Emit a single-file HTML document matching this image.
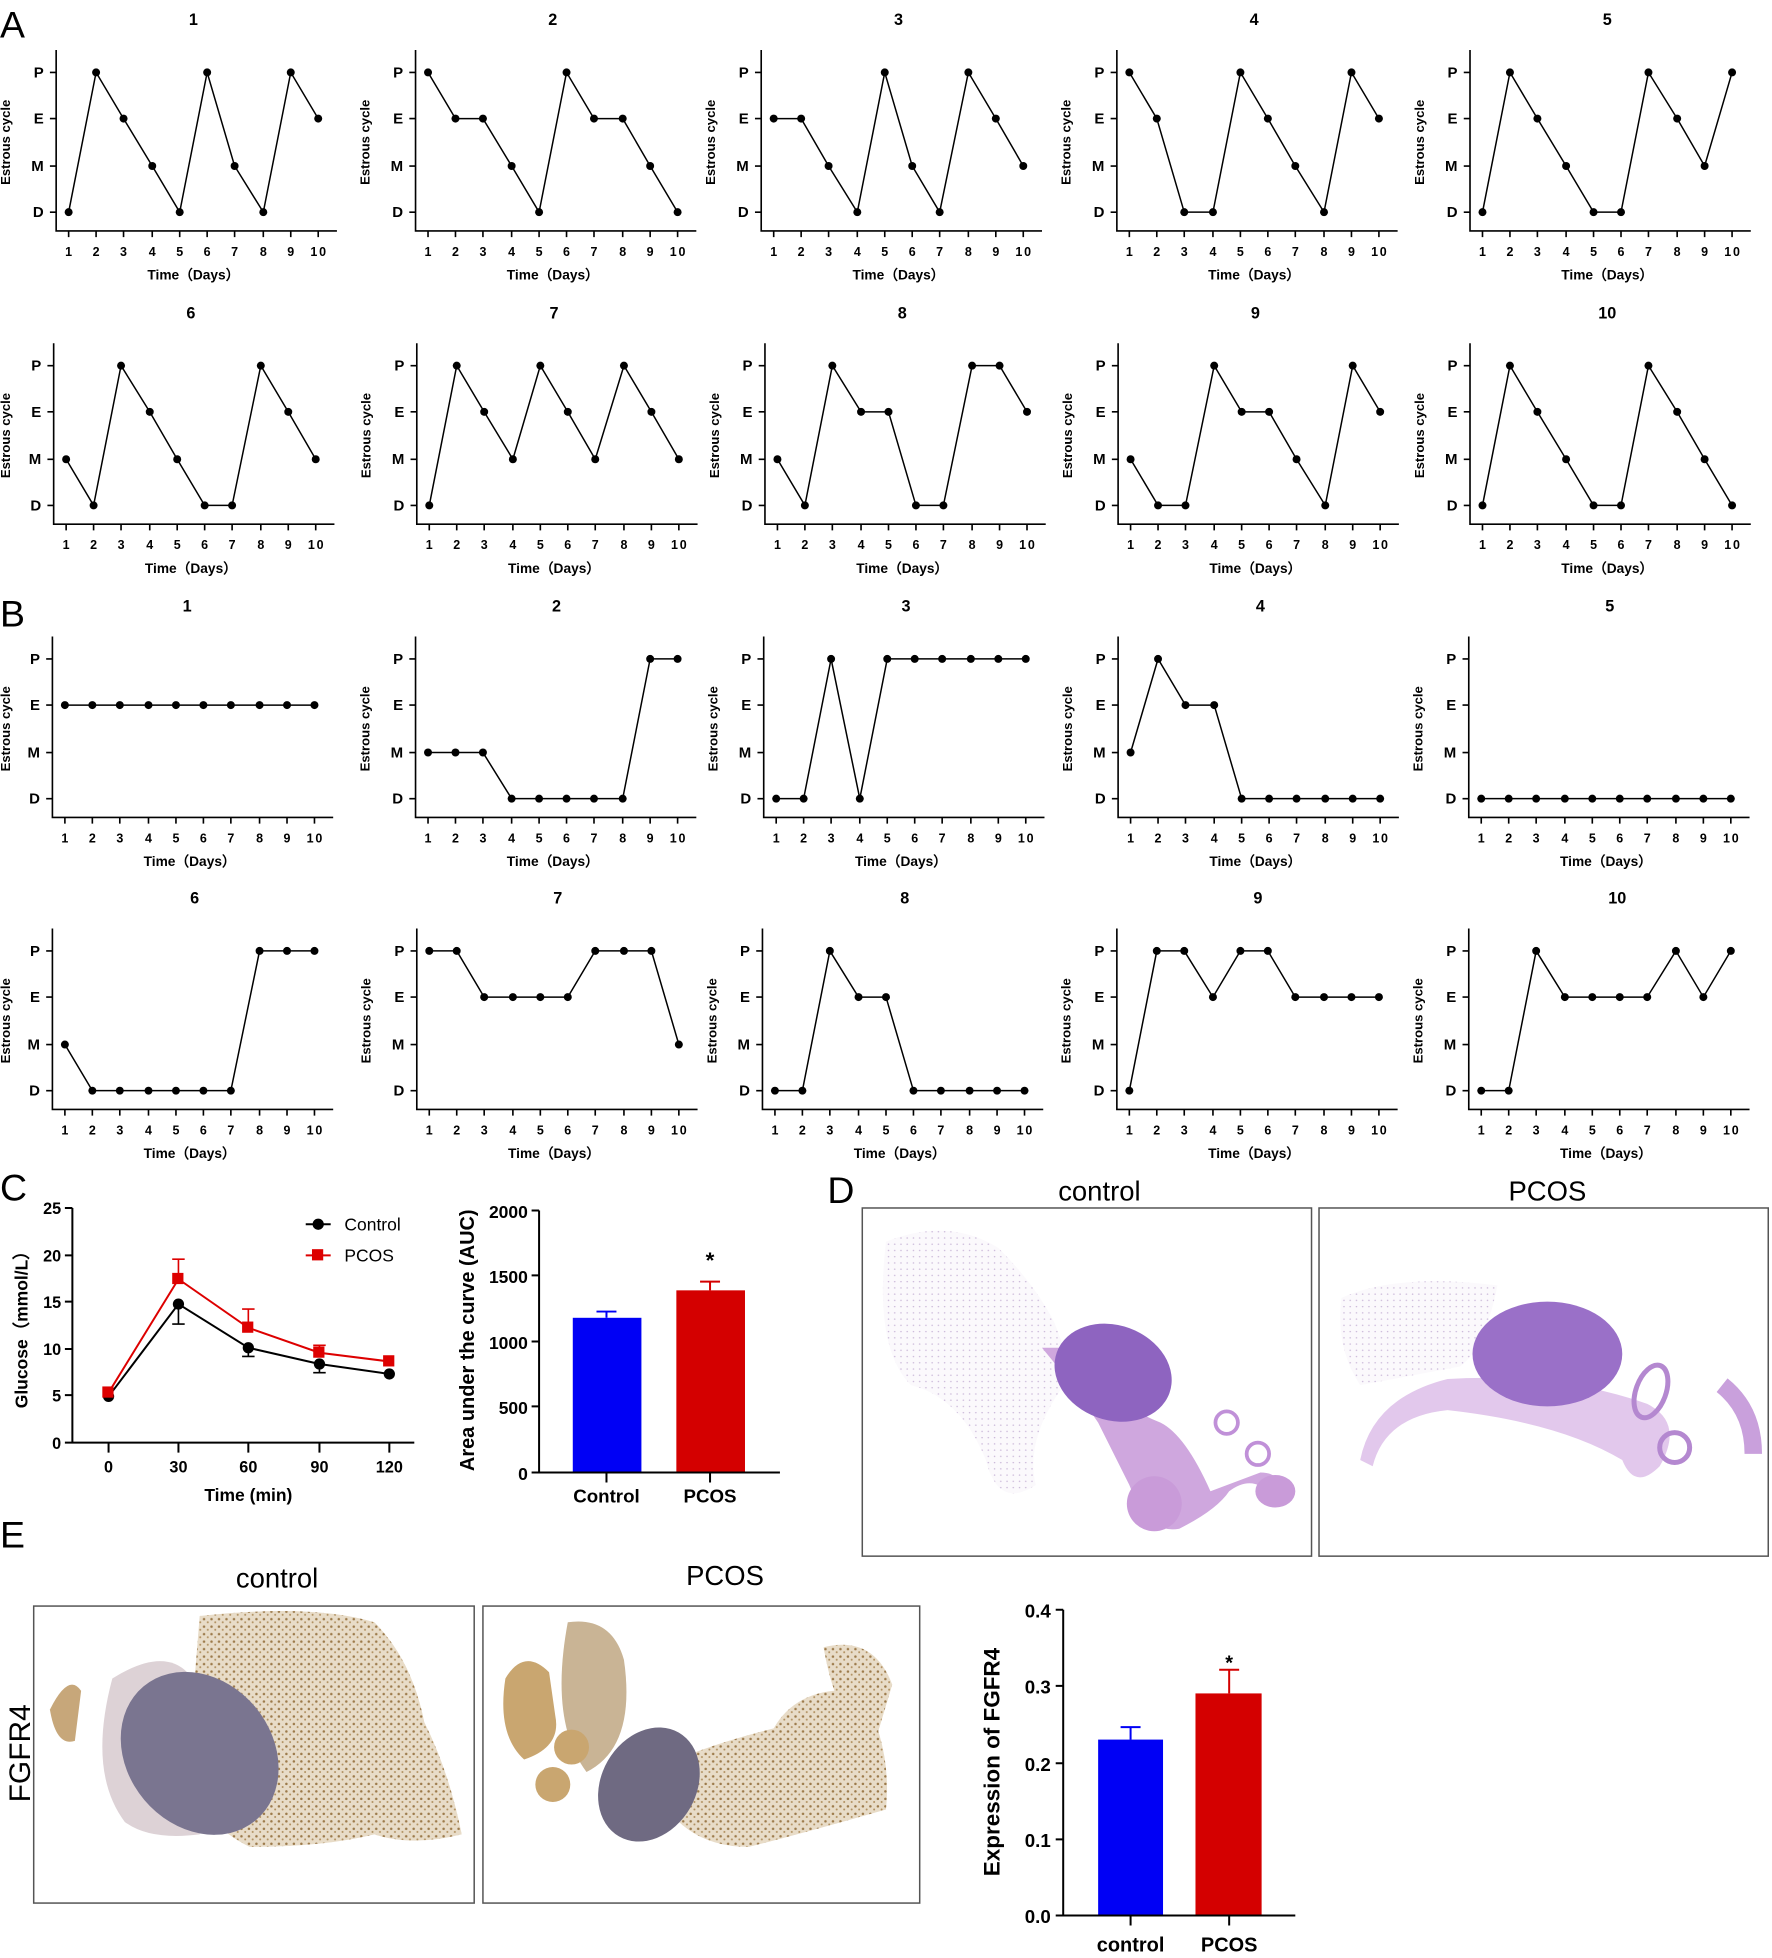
<!DOCTYPE html>
<html><head><meta charset="utf-8"><style>
html,body{margin:0;padding:0;background:#fff}
svg{display:block}
text{font-family:"Liberation Sans",Arial,sans-serif}
.b{font-weight:bold}
</style></head><body>
<svg width="1772" height="1958" viewBox="0 0 1420 1569" xmlns="http://www.w3.org/2000/svg">
<defs>
<marker id="dot" markerWidth="8" markerHeight="8" refX="4" refY="4" markerUnits="userSpaceOnUse"><circle cx="4" cy="4" r="3.2" fill="#000"/></marker>
<pattern id="brown" width="6" height="6" patternUnits="userSpaceOnUse"><rect width="6" height="6" fill="#e8dcc8"/><circle cx="1.5" cy="1.5" r="1" fill="#9c7a4a"/><circle cx="4.5" cy="4" r="0.8" fill="#b08f5e"/></pattern>
<pattern id="lav" width="5" height="5" patternUnits="userSpaceOnUse"><rect width="5" height="5" fill="#fbf9fc"/><circle cx="2" cy="2" r="0.6" fill="#c9b6d8"/></pattern>
</defs>
<rect width="1420" height="1569" fill="#fff"/>
<g font-size="30"><text x="0" y="30">A</text><text x="0" y="502">B</text><text x="0" y="962">C</text><text x="663" y="964">D</text><text x="0" y="1240">E</text></g>

<g class="b" font-size="11">
<!-- Row A1 -->
<g transform="translate(45,58)"><path d="M0,-18V127H225M-5,0H0M-5,37H0M-5,75H0M-5,112H0M10,127v5M32,127v5M54,127v5M77,127v5M99,127v5M121,127v5M143,127v5M166,127v5M188,127v5M210,127v5" stroke="#000" stroke-width="1.3" fill="none"/><text x="-10 -10 -10 -10" y="4 41 79 116" text-anchor="end" font-size="12">PEMD</text><text x="10 32 54 77 99 121 143 166 188 206.5 213.5" y="147" text-anchor="middle" font-size="10">12345678910</text><text x="110" y="166" text-anchor="middle">Time（Days）</text><text transform="translate(-37,56) rotate(-90)" text-anchor="middle" font-size="10.5">Estrous cycle</text><text x="110" y="-38" text-anchor="middle" font-size="13">1</text><polyline points="10,112 32,0 54,37 77,75 99,112 121,0 143,75 166,112 188,0 210,37" fill="none" stroke="#000" stroke-width="1.2" marker-start="url(#dot)" marker-mid="url(#dot)" marker-end="url(#dot)"/></g>
<g transform="translate(333,58)"><path d="M0,-18V127H225M-5,0H0M-5,37H0M-5,75H0M-5,112H0M10,127v5M32,127v5M54,127v5M77,127v5M99,127v5M121,127v5M143,127v5M166,127v5M188,127v5M210,127v5" stroke="#000" stroke-width="1.3" fill="none"/><text x="-10 -10 -10 -10" y="4 41 79 116" text-anchor="end" font-size="12">PEMD</text><text x="10 32 54 77 99 121 143 166 188 206.5 213.5" y="147" text-anchor="middle" font-size="10">12345678910</text><text x="110" y="166" text-anchor="middle">Time（Days）</text><text transform="translate(-37,56) rotate(-90)" text-anchor="middle" font-size="10.5">Estrous cycle</text><text x="110" y="-38" text-anchor="middle" font-size="13">2</text><polyline points="10,0 32,37 54,37 77,75 99,112 121,0 143,37 166,37 188,75 210,112" fill="none" stroke="#000" stroke-width="1.2" marker-start="url(#dot)" marker-mid="url(#dot)" marker-end="url(#dot)"/></g>
<g transform="translate(610,58)"><path d="M0,-18V127H225M-5,0H0M-5,37H0M-5,75H0M-5,112H0M10,127v5M32,127v5M54,127v5M77,127v5M99,127v5M121,127v5M143,127v5M166,127v5M188,127v5M210,127v5" stroke="#000" stroke-width="1.3" fill="none"/><text x="-10 -10 -10 -10" y="4 41 79 116" text-anchor="end" font-size="12">PEMD</text><text x="10 32 54 77 99 121 143 166 188 206.5 213.5" y="147" text-anchor="middle" font-size="10">12345678910</text><text x="110" y="166" text-anchor="middle">Time（Days）</text><text transform="translate(-37,56) rotate(-90)" text-anchor="middle" font-size="10.5">Estrous cycle</text><text x="110" y="-38" text-anchor="middle" font-size="13">3</text><polyline points="10,37 32,37 54,75 77,112 99,0 121,75 143,112 166,0 188,37 210,75" fill="none" stroke="#000" stroke-width="1.2" marker-start="url(#dot)" marker-mid="url(#dot)" marker-end="url(#dot)"/></g>
<g transform="translate(895,58)"><path d="M0,-18V127H225M-5,0H0M-5,37H0M-5,75H0M-5,112H0M10,127v5M32,127v5M54,127v5M77,127v5M99,127v5M121,127v5M143,127v5M166,127v5M188,127v5M210,127v5" stroke="#000" stroke-width="1.3" fill="none"/><text x="-10 -10 -10 -10" y="4 41 79 116" text-anchor="end" font-size="12">PEMD</text><text x="10 32 54 77 99 121 143 166 188 206.5 213.5" y="147" text-anchor="middle" font-size="10">12345678910</text><text x="110" y="166" text-anchor="middle">Time（Days）</text><text transform="translate(-37,56) rotate(-90)" text-anchor="middle" font-size="10.5">Estrous cycle</text><text x="110" y="-38" text-anchor="middle" font-size="13">4</text><polyline points="10,0 32,37 54,112 77,112 99,0 121,37 143,75 166,112 188,0 210,37" fill="none" stroke="#000" stroke-width="1.2" marker-start="url(#dot)" marker-mid="url(#dot)" marker-end="url(#dot)"/></g>
<g transform="translate(1178,58)"><path d="M0,-18V127H225M-5,0H0M-5,37H0M-5,75H0M-5,112H0M10,127v5M32,127v5M54,127v5M77,127v5M99,127v5M121,127v5M143,127v5M166,127v5M188,127v5M210,127v5" stroke="#000" stroke-width="1.3" fill="none"/><text x="-10 -10 -10 -10" y="4 41 79 116" text-anchor="end" font-size="12">PEMD</text><text x="10 32 54 77 99 121 143 166 188 206.5 213.5" y="147" text-anchor="middle" font-size="10">12345678910</text><text x="110" y="166" text-anchor="middle">Time（Days）</text><text transform="translate(-37,56) rotate(-90)" text-anchor="middle" font-size="10.5">Estrous cycle</text><text x="110" y="-38" text-anchor="middle" font-size="13">5</text><polyline points="10,112 32,0 54,37 77,75 99,112 121,112 143,0 166,37 188,75 210,0" fill="none" stroke="#000" stroke-width="1.2" marker-start="url(#dot)" marker-mid="url(#dot)" marker-end="url(#dot)"/></g>

<!-- Row A2 -->
<g transform="translate(43,293)"><path d="M0,-18V127H225M-5,0H0M-5,37H0M-5,75H0M-5,112H0M10,127v5M32,127v5M54,127v5M77,127v5M99,127v5M121,127v5M143,127v5M166,127v5M188,127v5M210,127v5" stroke="#000" stroke-width="1.3" fill="none"/><text x="-10 -10 -10 -10" y="4 41 79 116" text-anchor="end" font-size="12">PEMD</text><text x="10 32 54 77 99 121 143 166 188 206.5 213.5" y="147" text-anchor="middle" font-size="10">12345678910</text><text x="110" y="166" text-anchor="middle">Time（Days）</text><text transform="translate(-35,56) rotate(-90)" text-anchor="middle" font-size="10.5">Estrous cycle</text><text x="110" y="-38" text-anchor="middle" font-size="13">6</text><polyline points="10,75 32,112 54,0 77,37 99,75 121,112 143,112 166,0 188,37 210,75" fill="none" stroke="#000" stroke-width="1.2" marker-start="url(#dot)" marker-mid="url(#dot)" marker-end="url(#dot)"/></g>
<g transform="translate(334,293)"><path d="M0,-18V127H225M-5,0H0M-5,37H0M-5,75H0M-5,112H0M10,127v5M32,127v5M54,127v5M77,127v5M99,127v5M121,127v5M143,127v5M166,127v5M188,127v5M210,127v5" stroke="#000" stroke-width="1.3" fill="none"/><text x="-10 -10 -10 -10" y="4 41 79 116" text-anchor="end" font-size="12">PEMD</text><text x="10 32 54 77 99 121 143 166 188 206.5 213.5" y="147" text-anchor="middle" font-size="10">12345678910</text><text x="110" y="166" text-anchor="middle">Time（Days）</text><text transform="translate(-37,56) rotate(-90)" text-anchor="middle" font-size="10.5">Estrous cycle</text><text x="110" y="-38" text-anchor="middle" font-size="13">7</text><polyline points="10,112 32,0 54,37 77,75 99,0 121,37 143,75 166,0 188,37 210,75" fill="none" stroke="#000" stroke-width="1.2" marker-start="url(#dot)" marker-mid="url(#dot)" marker-end="url(#dot)"/></g>
<g transform="translate(613,293)"><path d="M0,-18V127H225M-5,0H0M-5,37H0M-5,75H0M-5,112H0M10,127v5M32,127v5M54,127v5M77,127v5M99,127v5M121,127v5M143,127v5M166,127v5M188,127v5M210,127v5" stroke="#000" stroke-width="1.3" fill="none"/><text x="-10 -10 -10 -10" y="4 41 79 116" text-anchor="end" font-size="12">PEMD</text><text x="10 32 54 77 99 121 143 166 188 206.5 213.5" y="147" text-anchor="middle" font-size="10">12345678910</text><text x="110" y="166" text-anchor="middle">Time（Days）</text><text transform="translate(-37,56) rotate(-90)" text-anchor="middle" font-size="10.5">Estrous cycle</text><text x="110" y="-38" text-anchor="middle" font-size="13">8</text><polyline points="10,75 32,112 54,0 77,37 99,37 121,112 143,112 166,0 188,0 210,37" fill="none" stroke="#000" stroke-width="1.2" marker-start="url(#dot)" marker-mid="url(#dot)" marker-end="url(#dot)"/></g>
<g transform="translate(896,293)"><path d="M0,-18V127H225M-5,0H0M-5,37H0M-5,75H0M-5,112H0M10,127v5M32,127v5M54,127v5M77,127v5M99,127v5M121,127v5M143,127v5M166,127v5M188,127v5M210,127v5" stroke="#000" stroke-width="1.3" fill="none"/><text x="-10 -10 -10 -10" y="4 41 79 116" text-anchor="end" font-size="12">PEMD</text><text x="10 32 54 77 99 121 143 166 188 206.5 213.5" y="147" text-anchor="middle" font-size="10">12345678910</text><text x="110" y="166" text-anchor="middle">Time（Days）</text><text transform="translate(-37,56) rotate(-90)" text-anchor="middle" font-size="10.5">Estrous cycle</text><text x="110" y="-38" text-anchor="middle" font-size="13">9</text><polyline points="10,75 32,112 54,112 77,0 99,37 121,37 143,75 166,112 188,0 210,37" fill="none" stroke="#000" stroke-width="1.2" marker-start="url(#dot)" marker-mid="url(#dot)" marker-end="url(#dot)"/></g>
<g transform="translate(1178,293)"><path d="M0,-18V127H225M-5,0H0M-5,37H0M-5,75H0M-5,112H0M10,127v5M32,127v5M54,127v5M77,127v5M99,127v5M121,127v5M143,127v5M166,127v5M188,127v5M210,127v5" stroke="#000" stroke-width="1.3" fill="none"/><text x="-10 -10 -10 -10" y="4 41 79 116" text-anchor="end" font-size="12">PEMD</text><text x="10 32 54 77 99 121 143 166 188 206.5 213.5" y="147" text-anchor="middle" font-size="10">12345678910</text><text x="110" y="166" text-anchor="middle">Time（Days）</text><text transform="translate(-37,56) rotate(-90)" text-anchor="middle" font-size="10.5">Estrous cycle</text><text x="110" y="-38" text-anchor="middle" font-size="13">10</text><polyline points="10,112 32,0 54,37 77,75 99,112 121,112 143,0 166,37 188,75 210,112" fill="none" stroke="#000" stroke-width="1.2" marker-start="url(#dot)" marker-mid="url(#dot)" marker-end="url(#dot)"/></g>

<!-- Row B1 -->
<g transform="translate(42,528)"><path d="M0,-18V127H225M-5,0H0M-5,37H0M-5,75H0M-5,112H0M10,127v5M32,127v5M54,127v5M77,127v5M99,127v5M121,127v5M143,127v5M166,127v5M188,127v5M210,127v5" stroke="#000" stroke-width="1.3" fill="none"/><text x="-10 -10 -10 -10" y="4 41 79 116" text-anchor="end" font-size="12">PEMD</text><text x="10 32 54 77 99 121 143 166 188 206.5 213.5" y="147" text-anchor="middle" font-size="10">12345678910</text><text x="110" y="166" text-anchor="middle">Time（Days）</text><text transform="translate(-34,56) rotate(-90)" text-anchor="middle" font-size="10.5">Estrous cycle</text><text x="108" y="-38" text-anchor="middle" font-size="13">1</text><polyline points="10,37 32,37 54,37 77,37 99,37 121,37 143,37 166,37 188,37 210,37" fill="none" stroke="#000" stroke-width="1.2" marker-start="url(#dot)" marker-mid="url(#dot)" marker-end="url(#dot)"/></g>
<g transform="translate(333,528)"><path d="M0,-18V127H225M-5,0H0M-5,37H0M-5,75H0M-5,112H0M10,127v5M32,127v5M54,127v5M77,127v5M99,127v5M121,127v5M143,127v5M166,127v5M188,127v5M210,127v5" stroke="#000" stroke-width="1.3" fill="none"/><text x="-10 -10 -10 -10" y="4 41 79 116" text-anchor="end" font-size="12">PEMD</text><text x="10 32 54 77 99 121 143 166 188 206.5 213.5" y="147" text-anchor="middle" font-size="10">12345678910</text><text x="110" y="166" text-anchor="middle">Time（Days）</text><text transform="translate(-37,56) rotate(-90)" text-anchor="middle" font-size="10.5">Estrous cycle</text><text x="113" y="-38" text-anchor="middle" font-size="13">2</text><polyline points="10,75 32,75 54,75 77,112 99,112 121,112 143,112 166,112 188,0 210,0" fill="none" stroke="#000" stroke-width="1.2" marker-start="url(#dot)" marker-mid="url(#dot)" marker-end="url(#dot)"/></g>
<g transform="translate(612,528)"><path d="M0,-18V127H225M-5,0H0M-5,37H0M-5,75H0M-5,112H0M10,127v5M32,127v5M54,127v5M77,127v5M99,127v5M121,127v5M143,127v5M166,127v5M188,127v5M210,127v5" stroke="#000" stroke-width="1.3" fill="none"/><text x="-10 -10 -10 -10" y="4 41 79 116" text-anchor="end" font-size="12">PEMD</text><text x="10 32 54 77 99 121 143 166 188 206.5 213.5" y="147" text-anchor="middle" font-size="10">12345678910</text><text x="110" y="166" text-anchor="middle">Time（Days）</text><text transform="translate(-37,56) rotate(-90)" text-anchor="middle" font-size="10.5">Estrous cycle</text><text x="114" y="-38" text-anchor="middle" font-size="13">3</text><polyline points="10,112 32,112 54,0 77,112 99,0 121,0 143,0 166,0 188,0 210,0" fill="none" stroke="#000" stroke-width="1.2" marker-start="url(#dot)" marker-mid="url(#dot)" marker-end="url(#dot)"/></g>
<g transform="translate(896,528)"><path d="M0,-18V127H225M-5,0H0M-5,37H0M-5,75H0M-5,112H0M10,127v5M32,127v5M54,127v5M77,127v5M99,127v5M121,127v5M143,127v5M166,127v5M188,127v5M210,127v5" stroke="#000" stroke-width="1.3" fill="none"/><text x="-10 -10 -10 -10" y="4 41 79 116" text-anchor="end" font-size="12">PEMD</text><text x="10 32 54 77 99 121 143 166 188 206.5 213.5" y="147" text-anchor="middle" font-size="10">12345678910</text><text x="110" y="166" text-anchor="middle">Time（Days）</text><text transform="translate(-37,56) rotate(-90)" text-anchor="middle" font-size="10.5">Estrous cycle</text><text x="114" y="-38" text-anchor="middle" font-size="13">4</text><polyline points="10,75 32,0 54,37 77,37 99,112 121,112 143,112 166,112 188,112 210,112" fill="none" stroke="#000" stroke-width="1.2" marker-start="url(#dot)" marker-mid="url(#dot)" marker-end="url(#dot)"/></g>
<g transform="translate(1177,528)"><path d="M0,-18V127H225M-5,0H0M-5,37H0M-5,75H0M-5,112H0M10,127v5M32,127v5M54,127v5M77,127v5M99,127v5M121,127v5M143,127v5M166,127v5M188,127v5M210,127v5" stroke="#000" stroke-width="1.3" fill="none"/><text x="-10 -10 -10 -10" y="4 41 79 116" text-anchor="end" font-size="12">PEMD</text><text x="10 32 54 77 99 121 143 166 188 206.5 213.5" y="147" text-anchor="middle" font-size="10">12345678910</text><text x="110" y="166" text-anchor="middle">Time（Days）</text><text transform="translate(-37,56) rotate(-90)" text-anchor="middle" font-size="10.5">Estrous cycle</text><text x="113" y="-38" text-anchor="middle" font-size="13">5</text><polyline points="10,112 32,112 54,112 77,112 99,112 121,112 143,112 166,112 188,112 210,112" fill="none" stroke="#000" stroke-width="1.2" marker-start="url(#dot)" marker-mid="url(#dot)" marker-end="url(#dot)"/></g>

<!-- Row B2 -->
<g transform="translate(42,762)"><path d="M0,-18V127H225M-5,0H0M-5,37H0M-5,75H0M-5,112H0M10,127v5M32,127v5M54,127v5M77,127v5M99,127v5M121,127v5M143,127v5M166,127v5M188,127v5M210,127v5" stroke="#000" stroke-width="1.3" fill="none"/><text x="-10 -10 -10 -10" y="4 41 79 116" text-anchor="end" font-size="12">PEMD</text><text x="10 32 54 77 99 121 143 166 188 206.5 213.5" y="147" text-anchor="middle" font-size="10">12345678910</text><text x="110" y="166" text-anchor="middle">Time（Days）</text><text transform="translate(-34,56) rotate(-90)" text-anchor="middle" font-size="10.5">Estrous cycle</text><text x="114" y="-38" text-anchor="middle" font-size="13">6</text><polyline points="10,75 32,112 54,112 77,112 99,112 121,112 143,112 166,0 188,0 210,0" fill="none" stroke="#000" stroke-width="1.2" marker-start="url(#dot)" marker-mid="url(#dot)" marker-end="url(#dot)"/></g>
<g transform="translate(334,762)"><path d="M0,-18V127H225M-5,0H0M-5,37H0M-5,75H0M-5,112H0M10,127v5M32,127v5M54,127v5M77,127v5M99,127v5M121,127v5M143,127v5M166,127v5M188,127v5M210,127v5" stroke="#000" stroke-width="1.3" fill="none"/><text x="-10 -10 -10 -10" y="4 41 79 116" text-anchor="end" font-size="12">PEMD</text><text x="10 32 54 77 99 121 143 166 188 206.5 213.5" y="147" text-anchor="middle" font-size="10">12345678910</text><text x="110" y="166" text-anchor="middle">Time（Days）</text><text transform="translate(-37,56) rotate(-90)" text-anchor="middle" font-size="10.5">Estrous cycle</text><text x="113" y="-38" text-anchor="middle" font-size="13">7</text><polyline points="10,0 32,0 54,37 77,37 99,37 121,37 143,0 166,0 188,0 210,75" fill="none" stroke="#000" stroke-width="1.2" marker-start="url(#dot)" marker-mid="url(#dot)" marker-end="url(#dot)"/></g>
<g transform="translate(611,762)"><path d="M0,-18V127H225M-5,0H0M-5,37H0M-5,75H0M-5,112H0M10,127v5M32,127v5M54,127v5M77,127v5M99,127v5M121,127v5M143,127v5M166,127v5M188,127v5M210,127v5" stroke="#000" stroke-width="1.3" fill="none"/><text x="-10 -10 -10 -10" y="4 41 79 116" text-anchor="end" font-size="12">PEMD</text><text x="10 32 54 77 99 121 143 166 188 206.5 213.5" y="147" text-anchor="middle" font-size="10">12345678910</text><text x="110" y="166" text-anchor="middle">Time（Days）</text><text transform="translate(-37,56) rotate(-90)" text-anchor="middle" font-size="10.5">Estrous cycle</text><text x="114" y="-38" text-anchor="middle" font-size="13">8</text><polyline points="10,112 32,112 54,0 77,37 99,37 121,112 143,112 166,112 188,112 210,112" fill="none" stroke="#000" stroke-width="1.2" marker-start="url(#dot)" marker-mid="url(#dot)" marker-end="url(#dot)"/></g>
<g transform="translate(895,762)"><path d="M0,-18V127H225M-5,0H0M-5,37H0M-5,75H0M-5,112H0M10,127v5M32,127v5M54,127v5M77,127v5M99,127v5M121,127v5M143,127v5M166,127v5M188,127v5M210,127v5" stroke="#000" stroke-width="1.3" fill="none"/><text x="-10 -10 -10 -10" y="4 41 79 116" text-anchor="end" font-size="12">PEMD</text><text x="10 32 54 77 99 121 143 166 188 206.5 213.5" y="147" text-anchor="middle" font-size="10">12345678910</text><text x="110" y="166" text-anchor="middle">Time（Days）</text><text transform="translate(-37,56) rotate(-90)" text-anchor="middle" font-size="10.5">Estrous cycle</text><text x="113" y="-38" text-anchor="middle" font-size="13">9</text><polyline points="10,112 32,0 54,0 77,37 99,0 121,0 143,37 166,37 188,37 210,37" fill="none" stroke="#000" stroke-width="1.2" marker-start="url(#dot)" marker-mid="url(#dot)" marker-end="url(#dot)"/></g>
<g transform="translate(1177,762)"><path d="M0,-18V127H225M-5,0H0M-5,37H0M-5,75H0M-5,112H0M10,127v5M32,127v5M54,127v5M77,127v5M99,127v5M121,127v5M143,127v5M166,127v5M188,127v5M210,127v5" stroke="#000" stroke-width="1.3" fill="none"/><text x="-10 -10 -10 -10" y="4 41 79 116" text-anchor="end" font-size="12">PEMD</text><text x="10 32 54 77 99 121 143 166 188 206.5 213.5" y="147" text-anchor="middle" font-size="10">12345678910</text><text x="110" y="166" text-anchor="middle">Time（Days）</text><text transform="translate(-37,56) rotate(-90)" text-anchor="middle" font-size="10.5">Estrous cycle</text><text x="119" y="-38" text-anchor="middle" font-size="13">10</text><polyline points="10,112 32,112 54,0 77,37 99,37 121,37 143,37 166,0 188,37 210,0" fill="none" stroke="#000" stroke-width="1.2" marker-start="url(#dot)" marker-mid="url(#dot)" marker-end="url(#dot)"/></g>
</g>

<!-- C: glucose -->
<g class="b">
<path d="M58,968V1156H332M52,968H58M52,1006H58M52,1043H58M52,1081H58M52,1118H58M52,1156H58M87,1156v8M143,1156v8M199,1156v8M256,1156v8M312,1156v8" stroke="#000" stroke-width="1.6" fill="none"/>
<g font-size="13" text-anchor="end"><text x="49" y="973">25</text><text x="49" y="1011">20</text><text x="49" y="1048">15</text><text x="49" y="1086">10</text><text x="49" y="1123">5</text><text x="49" y="1161">0</text></g>
<g font-size="13" text-anchor="middle"><text x="87" y="1180">0</text><text x="143" y="1180">30</text><text x="199" y="1180">60</text><text x="256" y="1180">90</text><text x="312" y="1180">120</text><text x="199" y="1203" font-size="14">Time (min)</text></g>
<text transform="translate(22,1062) rotate(-90)" text-anchor="middle" font-size="14">Glucose（mmol/L）</text>
<g stroke="#000" stroke-width="1.3"><path d="M143,1045V1061M138,1061h10M199,1080V1087M194,1087h10M256,1093V1100M251,1100h10"/></g>
<g stroke="#d00" stroke-width="1.3"><path d="M143,1025V1009M138,1009h10M199,1063V1049M194,1049h10M256,1084V1078M251,1078h10"/></g>
<polyline points="87,1119 143,1045 199,1080 256,1093 312,1101" fill="none" stroke="#000" stroke-width="1.6"/>
<polyline points="87,1116 143,1025 199,1064 256,1084 312,1091" fill="none" stroke="#d00" stroke-width="1.6"/>
<g fill="#000"><circle cx="87" cy="1119" r="4.5"/><circle cx="143" cy="1045" r="4.5"/><circle cx="199" cy="1080" r="4.5"/><circle cx="256" cy="1093" r="4.5"/><circle cx="312" cy="1101" r="4.5"/></g>
<g fill="#d00"><rect x="82" y="1111" width="9" height="9"/><rect x="138" y="1020" width="9" height="9"/><rect x="194" y="1059" width="9" height="9"/><rect x="251" y="1079" width="9" height="9"/><rect x="307" y="1086" width="9" height="9"/></g>
<path d="M245,981h20" stroke="#000" stroke-width="1.6"/><circle cx="255" cy="981" r="4.5"/>
<path d="M245,1006h20" stroke="#d00" stroke-width="1.6"/><rect x="250" y="1001" width="9" height="9" fill="#d00"/>
<g font-size="14" font-weight="normal"><text x="276" y="986">Control</text><text x="276" y="1011">PCOS</text></g>
</g>

<!-- C: AUC -->
<g class="b">
<rect x="459" y="1056" width="55" height="124" fill="#0000f5"/>
<rect x="542" y="1034" width="55" height="146" fill="#d40000"/>
<path d="M486,1056V1051M478,1051h16" stroke="#0000f5" stroke-width="1.6"/>
<path d="M569,1034V1027M561,1027h16" stroke="#d40000" stroke-width="1.6"/>
<path d="M432,970V1180H625M426,970H432M426,1022H432M426,1075H432M426,1127H432M426,1180H432M486,1180v8M569,1180v8" stroke="#000" stroke-width="1.6" fill="none"/>
<g font-size="14" text-anchor="end"><text x="423" y="976">2000</text><text x="423" y="1028">1500</text><text x="423" y="1081">1000</text><text x="423" y="1133">500</text><text x="423" y="1186">0</text></g>
<text x="569" y="1016" text-anchor="middle" font-size="18">*</text>
<g font-size="15" text-anchor="middle"><text x="486" y="1204">Control</text><text x="569" y="1204">PCOS</text></g>
<text transform="translate(380,1074) rotate(-90)" text-anchor="middle" font-size="16">Area under the curve (AUC)</text>
</g>

<!-- D -->
<g font-size="22" text-anchor="middle"><text x="881" y="962">control</text><text x="1240" y="962">PCOS</text></g>
<rect x="691" y="968" width="360" height="279" fill="#fff" stroke="#555" stroke-width="1.2"/>
<rect x="1057" y="968" width="360" height="279" fill="#fff" stroke="#555" stroke-width="1.2"/>
<path d="M710,995 Q760,975 800,1000 Q830,1030 845,1060 L860,1100 Q820,1150 830,1190 Q800,1210 790,1170 Q770,1120 730,1110 Q700,1080 710,995Z" fill="url(#lav)"/>
<path d="M835,1080 Q860,1110 880,1140 L905,1190 Q920,1230 945,1225 Q975,1210 985,1195 Q1005,1180 1020,1200 Q1030,1180 1010,1180 L970,1195 Q950,1150 930,1140 Q880,1120 860,1080Z" fill="#cfa7de"/>
<ellipse cx="892" cy="1100" rx="48" ry="38" transform="rotate(20 892 1100)" fill="#8e64c0"/>
<ellipse cx="925" cy="1205" rx="22" ry="22" fill="#c99bd9"/>
<ellipse cx="1022" cy="1195" rx="16" ry="13" fill="#c99bd9"/>
<circle cx="983" cy="1140" r="9" fill="none" stroke="#c090d8" stroke-width="3"/>
<circle cx="1008" cy="1165" r="9" fill="none" stroke="#c090d8" stroke-width="3"/>
<path d="M1075,1040 Q1120,1020 1200,1030 Q1190,1080 1170,1095 L1090,1110 Q1070,1080 1075,1040Z" fill="url(#lav)"/>
<path d="M1090,1170 Q1100,1120 1160,1105 Q1250,1100 1320,1125 Q1350,1140 1330,1175 Q1310,1195 1300,1170 Q1250,1140 1160,1130 Q1110,1135 1100,1175Z" fill="#e2c8ec"/>
<ellipse cx="1240" cy="1085" rx="60" ry="42" fill="#9a70c8"/>
<ellipse cx="1323" cy="1115" rx="12" ry="22" transform="rotate(20 1323 1115)" fill="none" stroke="#b488d0" stroke-width="4"/>
<circle cx="1342" cy="1160" r="12" fill="none" stroke="#b488d0" stroke-width="4"/>
<path d="M1380,1110 Q1405,1130 1405,1165" fill="none" stroke="#c9a0dc" stroke-width="14"/>

<!-- E -->
<g font-size="22" text-anchor="middle"><text x="222" y="1272">control</text><text x="581" y="1270">PCOS</text></g>
<text transform="translate(24,1405) rotate(-90)" text-anchor="middle" font-size="24">FGFR4</text>
<rect x="27" y="1287" width="353" height="238" fill="#fff" stroke="#555" stroke-width="1.2"/>
<rect x="387" y="1287" width="350" height="238" fill="#fff" stroke="#555" stroke-width="1.2"/>
<path d="M160,1295 Q250,1285 300,1300 Q330,1330 340,1380 Q360,1420 370,1470 Q330,1480 300,1470 Q260,1480 200,1480 Q160,1460 150,1420 Z" fill="url(#brown)"/>
<path d="M90,1345 Q130,1320 150,1340 L160,1470 Q120,1475 100,1460 Q70,1420 90,1345Z" fill="#ddd2d6"/>
<ellipse cx="160" cy="1405" rx="70" ry="58" transform="rotate(50 160 1405)" fill="#7a7590"/>
<path d="M40,1370 Q55,1340 65,1355 L60,1395 Q45,1400 40,1370Z" fill="#c7a77a"/>
<path d="M455,1300 Q490,1295 500,1330 Q510,1400 470,1420 Q440,1380 455,1300Z" fill="#c9b495"/>
<path d="M520,1420 Q560,1400 620,1385 Q640,1350 690,1355 Q715,1400 710,1450 Q640,1470 600,1480 Q540,1480 520,1420Z" fill="url(#brown)"/>
<path d="M660,1320 Q700,1310 715,1350 L700,1400 Q670,1380 660,1320Z" fill="url(#brown)"/>
<ellipse cx="520" cy="1430" rx="38" ry="48" transform="rotate(30 520 1430)" fill="#6f6a82"/>
<path d="M405,1345 Q420,1320 440,1340 L445,1375 Q450,1400 420,1410 Q398,1390 405,1345Z" fill="#c9a670"/>
<circle cx="458" cy="1400" r="14" fill="#c9a670"/>
<circle cx="443" cy="1430" r="14" fill="#c9a670"/>

<!-- E bar chart -->
<g class="b">
<rect x="880" y="1394" width="52" height="141" fill="#0000f5"/>
<rect x="958" y="1357" width="53" height="178" fill="#d40000"/>
<path d="M906,1394V1384M898,1384h16" stroke="#0000f5" stroke-width="1.6"/>
<path d="M985,1357V1338M977,1338h16" stroke="#d40000" stroke-width="1.6"/>
<path d="M852,1290V1535H1038M846,1290H852M846,1351H852M846,1413H852M846,1474H852M846,1535H852M906,1535v8M985,1535v8" stroke="#000" stroke-width="1.6" fill="none"/>
<g font-size="15" text-anchor="end"><text x="842" y="1296">0.4</text><text x="842" y="1357">0.3</text><text x="842" y="1419">0.2</text><text x="842" y="1480">0.1</text><text x="842" y="1541">0.0</text></g>
<text x="985" y="1338" text-anchor="middle" font-size="16">*</text>
<g font-size="16" text-anchor="middle"><text x="906" y="1564">control</text><text x="985" y="1564">PCOS</text></g>
<text transform="translate(801,1412) rotate(-90)" text-anchor="middle" font-size="18">Expression of FGFR4</text>
</g>
</svg>
</body></html>
